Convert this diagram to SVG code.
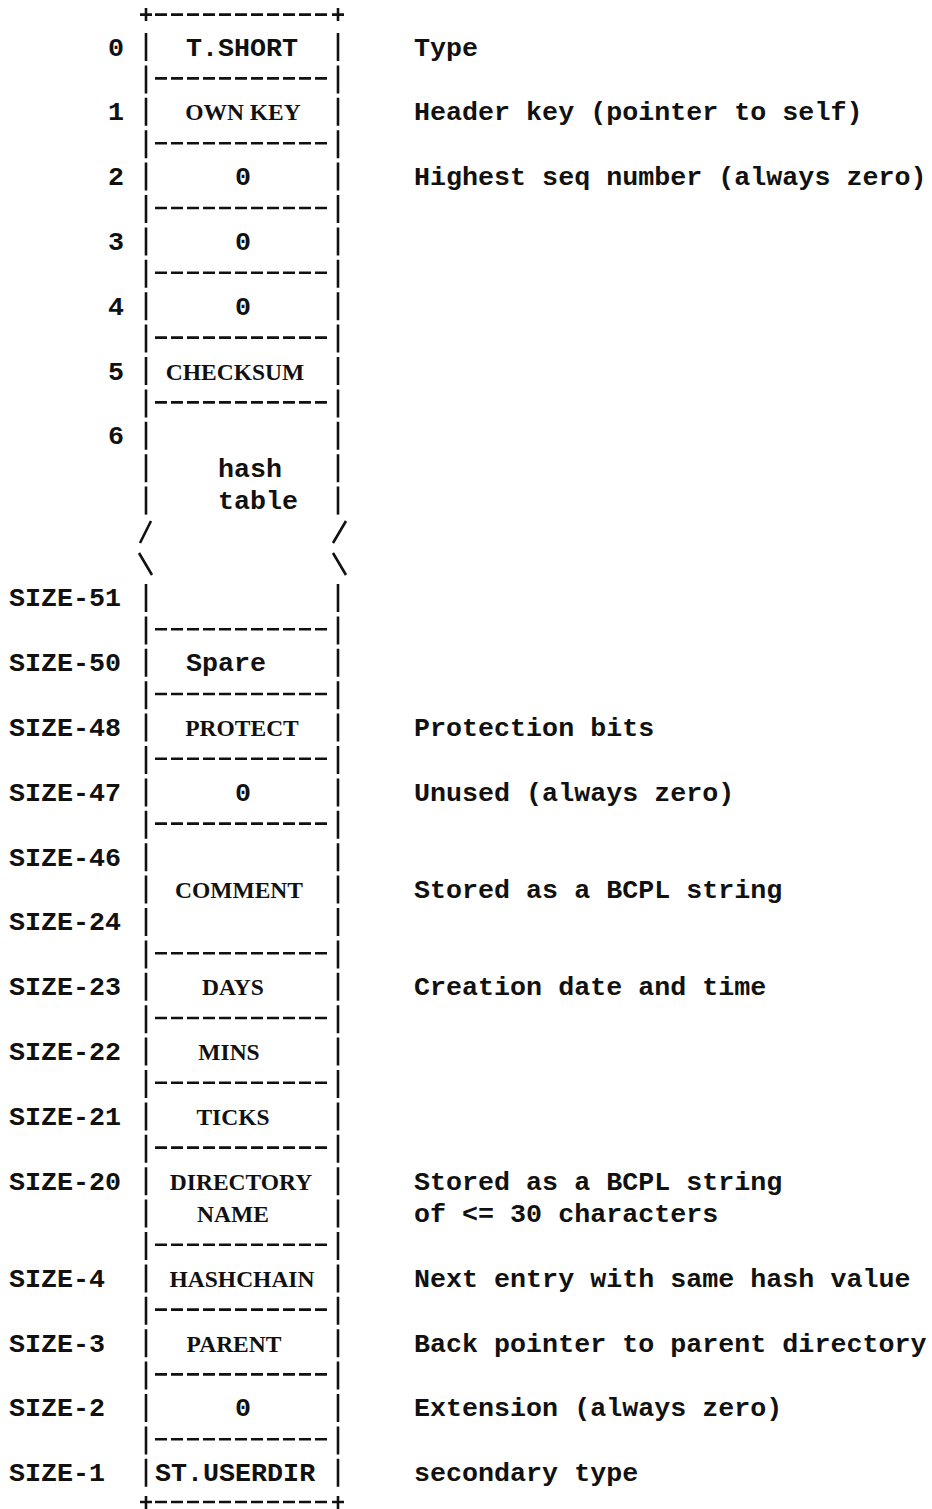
<svg xmlns="http://www.w3.org/2000/svg" width="932" height="1509" viewBox="0 0 932 1509">
<style>
.m{font-family:"Liberation Mono","DejaVu Sans Mono",monospace;font-weight:bold;font-size:26.7px;fill:#111}
.s{font-family:"Liberation Serif","DejaVu Serif",serif;font-weight:bold;font-size:23.5px;fill:#111}
.bar{stroke:#111;stroke-width:2.6;fill:none;stroke-dasharray:28 4.4}
.sep{stroke:#111;stroke-width:2.6;fill:none;stroke-dasharray:12 4}
.ln{stroke:#111;stroke-width:2.6;fill:none}
</style>
<rect width="932" height="1509" fill="#fff"/>
<g id="frame">
  <line class="bar" x1="146" y1="33" x2="146" y2="515"/>
  <line class="bar" x1="338" y1="33" x2="338" y2="515"/>
  <line class="bar" x1="146" y1="584" x2="146" y2="1487"/>
  <line class="bar" x1="338" y1="584" x2="338" y2="1487"/>
  <path class="ln" d="M140 14.6H152M146 8V21M332 14.6H344M338 8V21"/>
  <line class="sep" x1="155" y1="14.6" x2="331" y2="14.6"/>
  <path class="ln" d="M140 1502H152M146 1496V1509M332 1502H344M338 1496V1509"/>
  <line class="sep" x1="155" y1="1502" x2="331" y2="1502"/>
  <path class="ln" d="M140 543L151 521M333 543L346 521M139 553L152 575M333 553L346 575"/>
</g>
<g id="connectors">
  <line class="sep" x1="155" y1="78.4" x2="331" y2="78.4"/>
  <line class="sep" x1="155" y1="143.2" x2="331" y2="143.2"/>
  <line class="sep" x1="155" y1="208" x2="331" y2="208"/>
  <line class="sep" x1="155" y1="272.8" x2="331" y2="272.8"/>
  <line class="sep" x1="155" y1="337.6" x2="331" y2="337.6"/>
  <line class="sep" x1="155" y1="402.4" x2="331" y2="402.4"/>
  <line class="sep" x1="155" y1="629.2" x2="331" y2="629.2"/>
  <line class="sep" x1="155" y1="694" x2="331" y2="694"/>
  <line class="sep" x1="155" y1="758.8" x2="331" y2="758.8"/>
  <line class="sep" x1="155" y1="823.6" x2="331" y2="823.6"/>
  <line class="sep" x1="155" y1="953.2" x2="331" y2="953.2"/>
  <line class="sep" x1="155" y1="1018" x2="331" y2="1018"/>
  <line class="sep" x1="155" y1="1082.8" x2="331" y2="1082.8"/>
  <line class="sep" x1="155" y1="1147.6" x2="331" y2="1147.6"/>
  <line class="sep" x1="155" y1="1244.8" x2="331" y2="1244.8"/>
  <line class="sep" x1="155" y1="1309.6" x2="331" y2="1309.6"/>
  <line class="sep" x1="155" y1="1374.4" x2="331" y2="1374.4"/>
  <line class="sep" x1="155" y1="1439.2" x2="331" y2="1439.2"/>
</g>
<g id="row0"><text class="m" x="116" y="55.5" text-anchor="middle">0</text><text class="m" x="186" y="55.5">T.SHORT</text><text class="m" x="414" y="55.5">Type</text></g>
<g id="row1"><text class="m" x="116" y="120.3" text-anchor="middle">1</text><text class="s" x="243" y="120.3" text-anchor="middle">OWN KEY</text><text class="m" x="414" y="120.3">Header key (pointer to self)</text></g>
<g id="row2"><text class="m" x="116" y="185.1" text-anchor="middle">2</text><text class="m" x="243" y="185.1" text-anchor="middle">0</text><text class="m" x="414" y="185.1">Highest seq number (always zero)</text></g>
<g id="row3"><text class="m" x="116" y="249.9" text-anchor="middle">3</text><text class="m" x="243" y="249.9" text-anchor="middle">0</text></g>
<g id="row4"><text class="m" x="116" y="314.7" text-anchor="middle">4</text><text class="m" x="243" y="314.7" text-anchor="middle">0</text></g>
<g id="row5"><text class="m" x="116" y="379.5" text-anchor="middle">5</text><text class="s" x="235" y="379.5" text-anchor="middle">CHECKSUM</text></g>
<g id="row6"><text class="m" x="116" y="444.3" text-anchor="middle">6</text><text class="m" x="218" y="476.7">hash</text><text class="m" x="218" y="509.1">table</text></g>
<g id="size51"><text class="m" x="9" y="606.3">SIZE-51</text></g>
<g id="size50"><text class="m" x="9" y="671.1">SIZE-50</text><text class="m" x="186" y="671.1">Spare</text></g>
<g id="size48"><text class="m" x="9" y="735.9">SIZE-48</text><text class="s" x="242" y="735.9" text-anchor="middle">PROTECT</text><text class="m" x="414" y="735.9">Protection bits</text></g>
<g id="size47"><text class="m" x="9" y="800.7">SIZE-47</text><text class="m" x="243" y="800.7" text-anchor="middle">0</text><text class="m" x="414" y="800.7">Unused (always zero)</text></g>
<g id="comment"><text class="m" x="9" y="865.5">SIZE-46</text><text class="s" x="239" y="897.9" text-anchor="middle">COMMENT</text><text class="m" x="9" y="930.3">SIZE-24</text><text class="m" x="414" y="897.9">Stored as a BCPL string</text></g>
<g id="size23"><text class="m" x="9" y="995.1">SIZE-23</text><text class="s" x="233" y="995.1" text-anchor="middle">DAYS</text><text class="m" x="414" y="995.1">Creation date and time</text></g>
<g id="size22"><text class="m" x="9" y="1059.9">SIZE-22</text><text class="s" x="229" y="1059.9" text-anchor="middle">MINS</text></g>
<g id="size21"><text class="m" x="9" y="1124.7">SIZE-21</text><text class="s" x="233" y="1124.7" text-anchor="middle">TICKS</text></g>
<g id="size20"><text class="m" x="9" y="1189.5">SIZE-20</text><text class="s" x="241" y="1189.5" text-anchor="middle">DIRECTORY</text><text class="s" x="233" y="1221.9" text-anchor="middle">NAME</text><text class="m" x="414" y="1189.5">Stored as a BCPL string</text><text class="m" x="414" y="1221.9">of &lt;= 30 characters</text></g>
<g id="size4"><text class="m" x="9" y="1286.7">SIZE-4</text><text class="s" x="242" y="1286.7" text-anchor="middle">HASHCHAIN</text><text class="m" x="414" y="1286.7">Next entry with same hash value</text></g>
<g id="size3"><text class="m" x="9" y="1351.5">SIZE-3</text><text class="s" x="234" y="1351.5" text-anchor="middle">PARENT</text><text class="m" x="414" y="1351.5">Back pointer to parent directory</text></g>
<g id="size2"><text class="m" x="9" y="1416.3">SIZE-2</text><text class="m" x="243" y="1416.3" text-anchor="middle">0</text><text class="m" x="414" y="1416.3">Extension (always zero)</text></g>
<g id="size1"><text class="m" x="9" y="1481.1">SIZE-1</text><text class="m" x="155" y="1481.1">ST.USERDIR</text><text class="m" x="414" y="1481.1">secondary type</text></g>
</svg>
